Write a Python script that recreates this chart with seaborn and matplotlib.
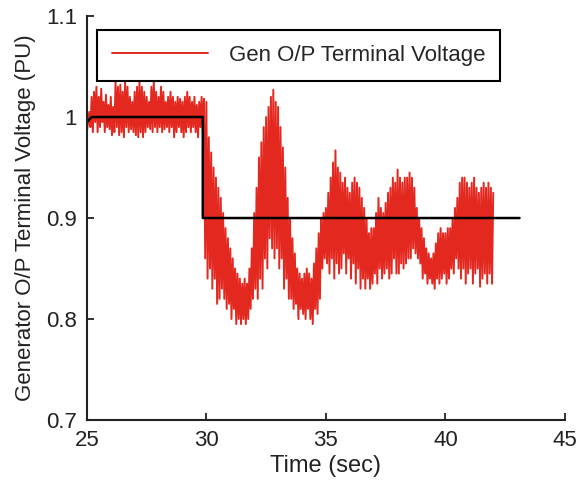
import matplotlib
matplotlib.use("Agg")
import matplotlib.pyplot as plt
import seaborn as sns
import numpy as np
import pandas as pd

# Generator output terminal voltage, sampled every 0.05 s from 25.0 to 42.0 s
t_start = 25.0
t_step = 0.05
voltage = [
    0.985, 0.995, 1.005, 0.990, 1.020, 0.985, 1.025, 0.995, 1.030, 0.985,
    1.020, 0.990, 1.028, 0.995, 1.015, 0.985, 1.022, 0.990, 1.012, 0.988,
    1.020, 0.982, 1.010, 0.985, 1.035, 0.990, 1.030, 0.982, 1.032, 0.985,
    1.025, 0.980, 1.035, 0.990, 1.030, 0.985, 1.020, 0.988, 1.015, 0.985,
    1.025, 0.982, 1.030, 0.980, 1.035, 0.985, 1.030, 0.980, 1.025, 0.985,
    1.020, 0.990, 1.015, 0.988, 1.030, 0.985, 1.035, 0.990, 1.025, 0.985,
    1.020, 0.990, 1.030, 0.985, 1.025, 0.988, 1.015, 0.990, 1.020, 0.985,
    1.025, 0.990, 1.020, 0.980, 1.015, 0.985, 1.020, 0.990, 1.018, 0.985,
    1.015, 0.980, 1.020, 0.985, 1.025, 0.990, 1.020, 0.985, 1.015, 0.990,
    1.020, 0.985, 1.012, 0.980, 1.015, 0.990, 1.020, 0.985, 1.018, 0.860,
    1.015, 0.840, 0.980, 0.850, 0.965, 0.830, 0.950, 0.840, 0.940, 0.815,
    0.930, 0.820, 0.920, 0.830, 0.905, 0.820, 0.890, 0.810, 0.880, 0.815,
    0.870, 0.800, 0.860, 0.810, 0.850, 0.795, 0.845, 0.800, 0.840, 0.795,
    0.835, 0.800, 0.840, 0.795, 0.835, 0.800, 0.850, 0.810, 0.870, 0.820,
    0.905, 0.830, 0.930, 0.820, 0.960, 0.840, 0.975, 0.830, 0.990, 0.860,
    1.000, 0.850, 1.010, 0.880, 1.020, 0.870, 1.027, 0.860, 1.015, 0.870,
    1.010, 0.850, 0.990, 0.860, 0.970, 0.830, 0.950, 0.840, 0.920, 0.820,
    0.900, 0.820, 0.880, 0.810, 0.865, 0.815, 0.850, 0.800, 0.845, 0.810,
    0.840, 0.805, 0.845, 0.800, 0.850, 0.810, 0.845, 0.800, 0.840, 0.795,
    0.855, 0.810, 0.870, 0.805, 0.885, 0.820, 0.900, 0.850, 0.905, 0.860,
    0.910, 0.855, 0.925, 0.845, 0.940, 0.860, 0.955, 0.840, 0.967, 0.855,
    0.950, 0.845, 0.945, 0.850, 0.935, 0.865, 0.940, 0.845, 0.930, 0.860,
    0.925, 0.840, 0.935, 0.855, 0.940, 0.835, 0.935, 0.850, 0.930, 0.830,
    0.920, 0.840, 0.910, 0.830, 0.900, 0.840, 0.885, 0.830, 0.890, 0.835,
    0.890, 0.845, 0.905, 0.835, 0.920, 0.850, 0.910, 0.840, 0.905, 0.845,
    0.915, 0.850, 0.925, 0.840, 0.930, 0.845, 0.940, 0.860, 0.935, 0.845,
    0.948, 0.845, 0.940, 0.855, 0.935, 0.850, 0.940, 0.855, 0.940, 0.860,
    0.945, 0.860, 0.940, 0.870, 0.930, 0.865, 0.910, 0.860, 0.900, 0.855,
    0.890, 0.840, 0.880, 0.845, 0.870, 0.835, 0.865, 0.840, 0.860, 0.835,
    0.865, 0.830, 0.875, 0.840, 0.885, 0.835, 0.890, 0.840, 0.885, 0.845,
    0.885, 0.835, 0.890, 0.840, 0.890, 0.850, 0.900, 0.845, 0.910, 0.860,
    0.920, 0.850, 0.935, 0.840, 0.940, 0.850, 0.940, 0.835, 0.935, 0.845,
    0.930, 0.850, 0.935, 0.835, 0.940, 0.845, 0.930, 0.850, 0.925, 0.832,
    0.930, 0.840, 0.935, 0.845, 0.930, 0.835, 0.935, 0.845, 0.930, 0.835,
    0.925,
]

# Reference (set-point) voltage step
ref_time = [25.0, 25.2, 29.85, 29.85, 43.1]
ref_volt = [0.995, 1.000, 1.000, 0.900, 0.900]

legend_label = "Gen O/P Terminal Voltage"
x_label = "Time (sec)"
y_label = "Generator O/P Terminal Voltage (PU)"
x_ticks = [25, 30, 35, 40, 45]
y_ticks = [0.7, 0.8, 0.9, 1.0, 1.1]
y_tick_labels = ["0.7", "0.8", "0.9", "1", "1.1"]

sns.set_theme(style="ticks")
plt.rcParams["font.family"] = ["Liberation Sans", "DejaVu Sans"]

time = t_start + t_step * np.arange(len(voltage))
df = pd.DataFrame({"time": time, "voltage": voltage})
df_ref = pd.DataFrame({"time": ref_time, "voltage": ref_volt})

fig = plt.figure(figsize=(5.83, 4.93), dpi=100)
ax = fig.add_axes([0.149, 0.148, 0.820, 0.8195])

sns.lineplot(data=df, x="time", y="voltage", ax=ax, color="#e2281f",
             linewidth=1.4, estimator=None, sort=False, label=legend_label)
sns.lineplot(data=df_ref, x="time", y="voltage", ax=ax, color="black",
             linewidth=1.8, estimator=None, sort=False, legend=False)

ax.set_xlim(25, 45)
ax.set_ylim(0.7, 1.1)
ax.set_xticks(x_ticks)
ax.set_yticks(y_ticks)
ax.set_yticklabels(y_tick_labels)
ax.set_xlabel(x_label, fontsize=17, color="#222222", labelpad=3)
ax.set_ylabel(y_label, fontsize=16, color="#222222", labelpad=7)

sns.despine(ax=ax)
for s in ["left", "bottom"]:
    ax.spines[s].set_linewidth(1.5)
    ax.spines[s].set_color("#222222")
ax.tick_params(direction="in", length=5, width=1.3, labelsize=16,
               colors="#222222", pad=7)

leg = ax.legend(loc="upper left", bbox_to_anchor=(0.021, 0.965),
                borderaxespad=0, fontsize=16, handlelength=4.3,
                handletextpad=0.95, borderpad=0.68, fancybox=False,
                framealpha=1, edgecolor="black")
leg.get_frame().set_linewidth(1.5)

fig.savefig("out.png", dpi=100)
